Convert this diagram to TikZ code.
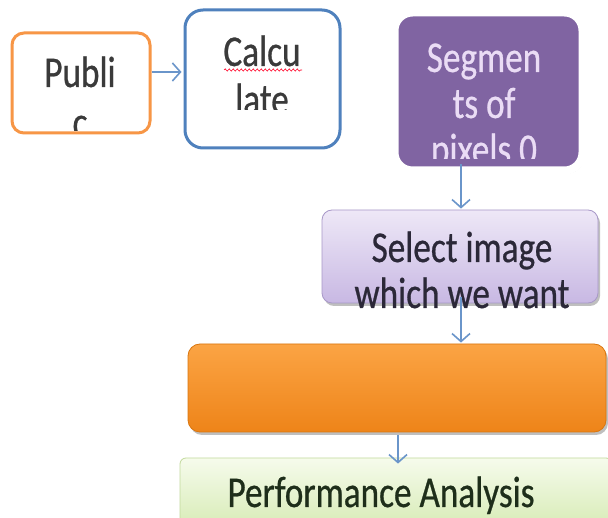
\documentclass[tikz,border=0pt]{standalone}
\usepackage{fontspec}
\setmainfont{Carlito}[FakeStretch=0.8,FakeBold=0.6]
\usetikzlibrary{arrows.meta,shadows,decorations.pathmorphing,calc}
\definecolor{pubor}{HTML}{F79646}
\definecolor{calcbl}{HTML}{4F81BD}
\definecolor{segpu}{HTML}{8064A2}
\definecolor{segtx}{HTML}{EADCF5}
\definecolor{sell}{HTML}{EEE8F7}
\definecolor{seld}{HTML}{C8B8E3}
\definecolor{selbd}{HTML}{A898C8}
\definecolor{orl}{HTML}{FBA444}
\definecolor{ord}{HTML}{EE8419}
\definecolor{ordd}{HTML}{D9760F}
\definecolor{grl}{HTML}{F6FBEC}
\definecolor{grd}{HTML}{D6EBB4}
\definecolor{grbd}{HTML}{C2DA9C}
\definecolor{arr}{HTML}{6A95CA}
\definecolor{darktx}{HTML}{3A3A3A}
\definecolor{seltx}{HTML}{2B2838}
\definecolor{perftx}{HTML}{1E2E1A}
\tikzset{
  txt/.style={font=\fontsize{44}{47}\selectfont, anchor=base, inner sep=0pt},
  arw/.style={draw=arr, line width=1.6pt, -{Straight Barb[length=8pt,width=18pt]}},
  softshadow/.style={drop shadow={shadow xshift=2pt, shadow yshift=-3pt, fill=black, opacity=0.25}}
}
\begin{document}
\begin{tikzpicture}[x=1pt,y=-1pt]
\path[use as bounding box, clip] (0,0) rectangle (608,518);
\fill[white] (0,0) rectangle (608,518);

% Public
\node[draw=pubor, line width=3pt, rounded corners=12pt, fill=white,
      minimum width=138pt, minimum height=100pt, inner sep=0pt] (pub) at (81,83) {};
\begin{scope}
  \clip (14,35) rectangle (148,131);
  \node[txt, text=darktx] (pub1) at (80,87) {Publi};
  \node[txt, text=darktx] (pub2) at (80,137) {c};
\end{scope}

% Calculate
\node[draw=calcbl, line width=3pt, rounded corners=18pt, fill=white,
      minimum width=155pt, minimum height=138pt, inner sep=0pt] (calc) at (262.5,79) {};
\begin{scope}
  \clip (188,12) rectangle (338,110);
  \node[txt, text=darktx] (calc1) at (262,66) {Calcu};
  \node[txt, text=darktx] (calc2) at (262,114) {late};
\end{scope}
\draw[red!85!magenta, line width=0.6pt, decorate,
      decoration={snake, amplitude=1.1pt, segment length=4pt}] (224,70) -- (302,70);

% Segments
\node[draw=white, line width=8pt, rounded corners=18pt, fill=segpu, softshadow,
      minimum width=188pt, minimum height=158pt, inner sep=0pt] (seg) at (488.5,91.5) {};
\begin{scope}
  \clip (394,14) rectangle (584,159);
  \node[txt, text=segtx] (seg1) at (484,72) {Segmen};
  \node[txt, text=segtx] (seg2) at (484,118) {ts of};
  \node[txt, text=segtx] (seg3) at (484,164) {pixels 0};
\end{scope}

% Select
\node[draw=selbd, line width=0.8pt, rounded corners=10pt, top color=sell, bottom color=seld,
      softshadow, minimum width=276pt, minimum height=93pt, inner sep=0pt] (sel) at (460,256.5) {};
\begin{scope}
  \clip (322,212) rectangle (598,310);
  \node[txt, text=seltx] (sel1) at (462,262) {Select image};
  \node[txt, text=seltx] (sel2) at (462,308) {which we want};
\end{scope}

% Orange
\node[draw=ordd, line width=0.8pt, rounded corners=12pt, top color=orl, bottom color=ord,
      softshadow, minimum width=418pt, minimum height=88pt, inner sep=0pt] (orb) at (397,388) {};

% Performance
\node[draw=grbd, line width=0.8pt, rounded corners=6pt, top color=grl, bottom color=grd,
      minimum width=432pt, minimum height=72pt, inner sep=0pt] (perf) at (396,494) {};
\node[txt, text=perftx] (perf1) at (381,507) {Performance Analysis};

% Connectors
\draw[arw] ($(pub.east)+(0,-11)$) -- ($(calc.west)+(-2,-7)$);
\draw[arw] ($(seg.south)+(-27.5,-10)$) -- ($(sel.north)+(1,-1)$);
\draw[arw] ($(sel.south)+(1,-6)$) -- ($(orb.north)+(64,-1)$);
\draw[arw] ($(orb.south)+(1,3)$) -- ($(perf.north)+(2,6)$);
\end{tikzpicture}
\end{document}
